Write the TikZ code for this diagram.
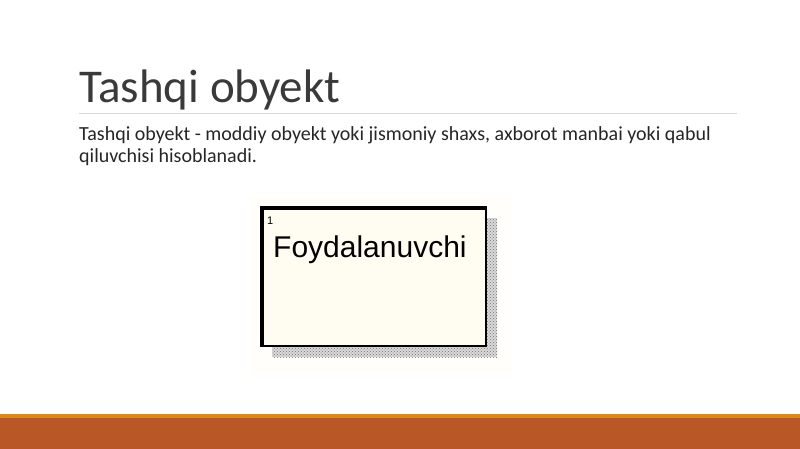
\documentclass[tikz,border=0pt]{standalone}
\usepackage{fontspec}
\setmainfont{Carlito}
\newfontfamily\boxfont{Liberation Sans}
\usepackage{tikz}
\usetikzlibrary{positioning,patterns}
\definecolor{barorange}{HTML}{BA5727}
\definecolor{barlight}{HTML}{D98A1E}
\definecolor{titlegray}{HTML}{3A3A3A}
\definecolor{boxcream}{HTML}{FFFDF2}
\tikzset{x=1pt, y=-1pt,
	titletext/.style={anchor=base west, inner sep=0pt, text=titlegray, font=\fontsize{47}{47}\selectfont},
	bodytext/.style={anchor=base west, inner sep=0pt, text=black!85, font=\fontsize{20}{22}\selectfont},
	entitybox/.style={draw=black, line width=2pt, fill=boxcream, minimum width=223pt, minimum height=137pt, inner sep=0pt},
	entityname/.style={anchor=base west, inner sep=0pt, font=\boxfont\fontsize{30}{30}\selectfont}}

\begin{document}
\begin{tikzpicture}
		\useasboundingbox[fill=white] (0,0) rectangle (800,449);
		\node(title)[titletext] at (79,103){Tashqi obyekt};
		\draw[black!15, line width=1pt](79,114) -- (737,114);
		\node(line1)[bodytext] at (79,141){Tashqi obyekt - moddiy obyekt yoki jismoniy shaxs, axborot manbai yoki qabul};
		\node(line2)[bodytext] at (79,163){qiluvchisi hisoblanadi.};
		% picture area
		\fill[boxcream!40](250,196) rectangle (512,376);
		\fill[black!15](272,218) rectangle (497,357);
		\fill[pattern=crosshatch dots, pattern color=black!55](272,218) rectangle (497,357);
		\node(ent)[entitybox, anchor=north west] at (262,208){};
		\draw[line width=4.5pt](ent.south west) -- (ent.north west) -- (ent.north east);
		\node(num)[anchor=base west, inner sep=0pt, font=\boxfont\fontsize{11}{11}\selectfont] at (267,224){1};
		\node(name)[entityname] at (273,257){Foydalanuvchi};
		% bottom bar
		\fill[barorange](0,416) rectangle (800,449);
		\fill[barlight](0,414) rectangle (800,418);
	\end{tikzpicture}
\end{document}
